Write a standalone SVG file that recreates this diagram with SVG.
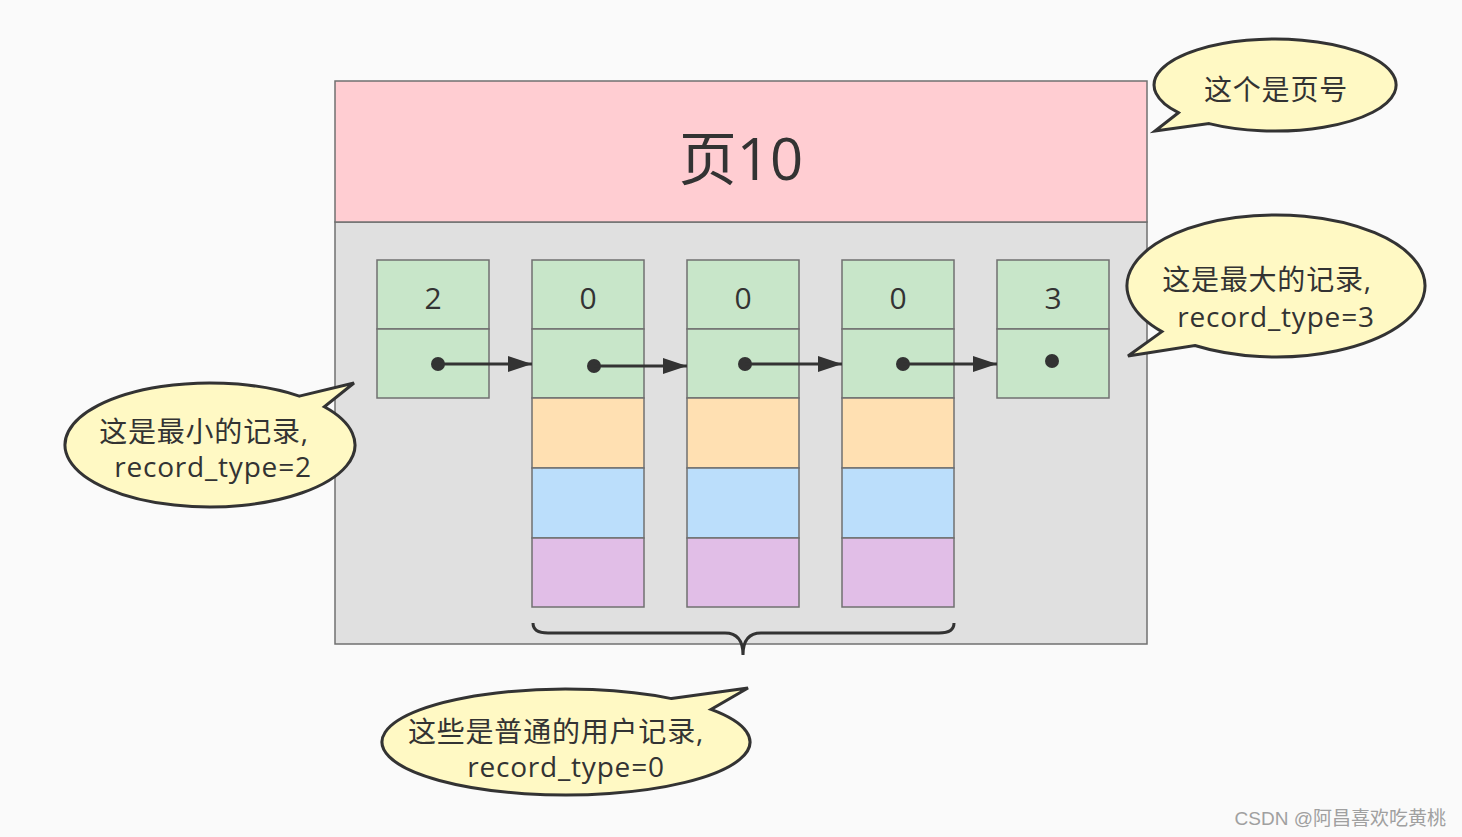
<svg xmlns="http://www.w3.org/2000/svg" width="1462" height="837" viewBox="0 0 1462 837">
<defs>
<style>
.cell{stroke:#707070;stroke-width:1.5}
.g{fill:#c8e6c9}.o{fill:#ffe0b2}.b{fill:#bbdefb}.p{fill:#e1bee7}
.num{font-family:"Open Sans","Noto Sans CJK SC",sans-serif;font-size:30px;fill:#333;text-anchor:middle}
.call{fill:#fff9c4;stroke:#333;stroke-width:3;stroke-linejoin:miter}
.ct{font-family:"Open Sans","Noto Sans CJK SC",sans-serif;font-size:28px;fill:#333;text-anchor:middle;letter-spacing:0.8px}
.link{stroke:#333;stroke-width:3;fill:none}
.dot{fill:#333}
</style>
<marker id="ah" viewBox="0 0 24 16" refX="24" refY="8" markerWidth="24" markerHeight="16" markerUnits="userSpaceOnUse" orient="auto">
<path d="M0,0 L24,8 L0,16 Z" fill="#333"/>
</marker>
</defs>
<rect width="1462" height="837" fill="#fafafa"/>
<g id="page">
<rect x="335" y="222" width="812" height="422" fill="#e0e0e0" stroke="#707070" stroke-width="1.5"/>
<rect x="335" y="81" width="812" height="141" fill="#ffcdd2" stroke="#707070" stroke-width="1.5"/>
<text x="741" y="180" font-family="'Open Sans','Noto Sans CJK SC',sans-serif" font-size="58" fill="#333" text-anchor="middle">页10</text>
</g>
<g id="rec-min">
<rect class="cell g" x="377" y="260" width="112" height="69"/>
<rect class="cell g" x="377" y="329" width="112" height="69"/>
<text class="num" x="433" y="309">2</text>
</g>
<g id="rec-1">
<rect class="cell g" x="532" y="260" width="112" height="69"/>
<rect class="cell g" x="532" y="329" width="112" height="69"/>
<rect class="cell o" x="532" y="398" width="112" height="70"/>
<rect class="cell b" x="532" y="468" width="112" height="70"/>
<rect class="cell p" x="532" y="538" width="112" height="69"/>
<text class="num" x="588" y="309">0</text>
</g>
<g id="rec-2">
<rect class="cell g" x="687" y="260" width="112" height="69"/>
<rect class="cell g" x="687" y="329" width="112" height="69"/>
<rect class="cell o" x="687" y="398" width="112" height="70"/>
<rect class="cell b" x="687" y="468" width="112" height="70"/>
<rect class="cell p" x="687" y="538" width="112" height="69"/>
<text class="num" x="743" y="309">0</text>
</g>
<g id="rec-3">
<rect class="cell g" x="842" y="260" width="112" height="69"/>
<rect class="cell g" x="842" y="329" width="112" height="69"/>
<rect class="cell o" x="842" y="398" width="112" height="70"/>
<rect class="cell b" x="842" y="468" width="112" height="70"/>
<rect class="cell p" x="842" y="538" width="112" height="69"/>
<text class="num" x="898" y="309">0</text>
</g>
<g id="rec-max">
<rect class="cell g" x="997" y="260" width="112" height="69"/>
<rect class="cell g" x="997" y="329" width="112" height="69"/>
<text class="num" x="1053" y="309">3</text>
<circle class="dot" cx="1052" cy="361" r="7"/>
</g>
<g id="connectors">
<circle class="dot" cx="438" cy="364" r="7"/>
<line class="link" x1="438" y1="364" x2="532" y2="364" marker-end="url(#ah)"/>
<circle class="dot" cx="594" cy="366" r="7"/>
<line class="link" x1="594" y1="366" x2="687" y2="366" marker-end="url(#ah)"/>
<circle class="dot" cx="745" cy="364" r="7"/>
<line class="link" x1="745" y1="364" x2="842" y2="364" marker-end="url(#ah)"/>
<circle class="dot" cx="903" cy="364" r="7"/>
<line class="link" x1="903" y1="364" x2="997" y2="364" marker-end="url(#ah)"/>
<path class="link" d="M533,623 Q533,633 548,633 L725,633 Q743,633 743,655 Q743,633 761,633 L939,633 Q954,633 954,623"/>
</g>
<g id="callout-page">
<path class="call" d="M1178.4,112.7 L1155,131 L1209.1,123.6 A121 46 0 1 0 1178.4,112.7 Z"/>
<text class="ct" x="1276" y="100" font-size="29">这个是页号</text>
</g>
<g id="callout-max">
<path class="call" d="M1161.9,331.6 L1128,356 L1194.9,345.5 A149 71 0 1 0 1161.9,331.6 Z"/>
<text class="ct" x="1267" y="290">这是最大的记录,</text>
<text class="ct" x="1276" y="327">record_type=3</text>
</g>
<g id="callout-min">
<path class="call" d="M299.3,396.1 L354,383 L324.3,406.8 A145 62 0 1 1 299.3,396.1 Z"/>
<text class="ct" x="204" y="442">这是最小的记录,</text>
<text class="ct" x="213" y="477">record_type=2</text>
</g>
<g id="callout-user">
<path class="call" d="M671.5,698.6 L748,688 L711,709.4 A184 53 0 1 1 671.5,698.6 Z"/>
<text class="ct" x="556" y="742">这些是普通的用户记录,</text>
<text class="ct" x="566" y="777">record_type=0</text>
</g>
<text x="1446" y="825" font-family="'Liberation Sans','Noto Sans CJK SC',sans-serif" font-size="19" fill="#a0a0a0" text-anchor="end">CSDN @阿昌喜欢吃黄桃</text>
</svg>
